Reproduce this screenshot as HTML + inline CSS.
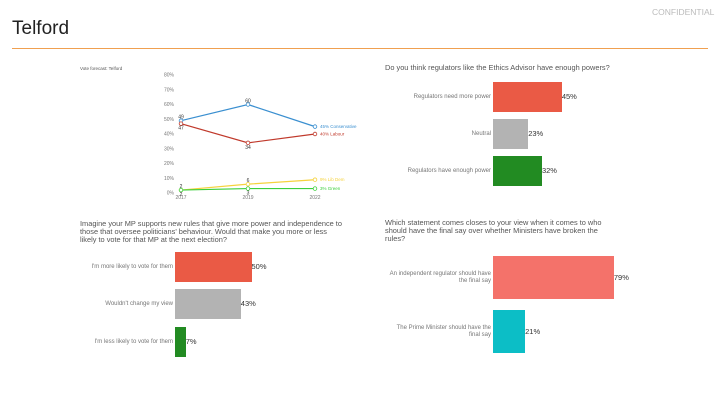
<!DOCTYPE html>
<html><head><meta charset="utf-8"><style>
body{margin:0;width:720px;height:405px;background:#fff;font-family:"Liberation Sans",sans-serif;position:relative;overflow:hidden}
.a{position:absolute}
.q{font-size:7.4px;color:#555;line-height:8px}
.lab{font-size:6px;color:#777;text-align:right;line-height:7px}
.val{font-size:7.5px;color:#333}
</style></head><body>
<div class="a" style="left:652px;top:7px;font-size:8.5px;color:#bbb">CONFIDENTIAL</div>
<div class="a" style="left:12px;top:18px;font-size:19px;color:#222">Telford</div>
<div class="a" style="left:12px;top:48px;width:696px;height:1px;background:#f0a050"></div>

<svg class="a" style="left:0;top:0" width="720" height="405">
<text x="80" y="70" font-size="4.5" fill="#555">Vote forecast: Telford</text>
<g id="ax"></g><g id="ln"></g>
</svg>

<div class="a q" style="left:80px;top:220px;width:262px">Imagine your MP supports new rules that give more power and independence to those that oversee politicians' behaviour. Would that make you more or less likely to vote for that MP at the next election?</div>
<div class="a q" style="left:385px;top:64px;width:300px">Do you think regulators like the Ethics Advisor have enough powers?</div>
<div class="a q" style="left:385px;top:219px;width:230px">Which statement comes closes to your view when it comes to who should have the final say over whether Ministers have broken the rules?</div>
<div id="bars"></div>

<script>
const years=['2017','2019','2022'];
const yTicks=[0,10,20,30,40,50,60,70,80];
const con=[49,60,45], lab=[47,34,40], ld=[2,6,9], grn=[2,3,3];
const seriesNames=['Conservative','Labour','Lib Dem','Green'];
const ns='http://www.w3.org/2000/svg';
const X=i=>181+i*67, Y=v=>193-v*1.475;
const ax=document.getElementById('ax'), ln=document.getElementById('ln');
function mk(t,a,p){const e=document.createElementNS(ns,t);for(const k in a)e.setAttribute(k,a[k]);p.appendChild(e);return e;}
yTicks.forEach(v=>{const t=mk('text',{x:174,y:Y(v)+1.5,'font-size':5,fill:'#777','text-anchor':'end'},ax);t.textContent=v+'%';

});
years.forEach((y,i)=>{const t=mk('text',{x:X(i),y:199,'font-size':5,fill:'#777','text-anchor':'middle'},ax);t.textContent=y;

});
const ser=[[con,'#3a8fd0'],[lab,'#c0392b'],[ld,'#f5d23c'],[grn,'#3ccf3c']];
ser.forEach(([d,c],s)=>{
 const p=mk('polyline',{points:d.map((v,i)=>X(i)+','+Y(v)).join(' '),fill:'none',stroke:c,'stroke-width':1.2},ln);
 
 
 d.forEach((v,i)=>{const m=mk('circle',{cx:X(i),cy:Y(v),r:1.8,fill:'#fff',stroke:c,'stroke-width':0.8},ln);
  
  
  if(i<2){const t=mk('text',{x:X(i),y:Y(v)+(s==1||s==3?6:-2),'font-size':5,fill:'#333','text-anchor':'middle'},ln);t.textContent=v;
  
  }
 });
 const t=mk('text',{x:X(2)+5,y:Y(d[2])+1.5,'font-size':4.5,fill:c},ln);t.textContent=d[2]+'% '+seriesNames[s];
 
 
});

const q1Cats=["I'm more likely to vote for them","Wouldn't change my view","I'm less likely to vote for them"];
const q1Vals=[50,43,7];
const q2Cats=["Regulators need more power","Neutral","Regulators have enough power"];
const q2Vals=[45,23,32];
const q3Cats=["An independent regulator should have the final say","The Prime Minister should have the final say"];
const q3Vals=[79,21];
const B=document.getElementById('bars');
function chart(cats,vals,x0,ys,h,cols,name,lw){
 cats.forEach((c,i)=>{
  const w=vals[i]*1.53;
  const b=document.createElement('div');b.className='a';
  b.style.cssText=`left:${x0}px;top:${ys[i]}px;width:${w}px;height:${h}px;background:${cols[i]}`;
  
  B.appendChild(b);
  const l=document.createElement('div');l.className='a lab';
  l.style.cssText=`left:${x0-lw-2}px;width:${lw}px;top:${ys[i]+h/2-(c.length>32?7:3.5)}px`;l.textContent=c;
  
  B.appendChild(l);
  const v=document.createElement('div');v.className='a val';
  v.style.cssText=`left:${x0+w}px;top:${ys[i]+h/2-5}px`;v.textContent=vals[i]+'%';
  
  B.appendChild(v);
 });
}
chart(q1Cats,q1Vals,175,[252,289,327],30,['#ea5a45','#b3b3b3','#228b22'],'mp-rules',110);
chart(q2Cats,q2Vals,493,[82,119,156],30,['#ea5a45','#b3b3b3','#228b22'],'regulators',110);
chart(q3Cats,q3Vals,493,[256,310],43,['#f4726a','#0cbec6'],'final-say',105);
</script>
</body></html>
